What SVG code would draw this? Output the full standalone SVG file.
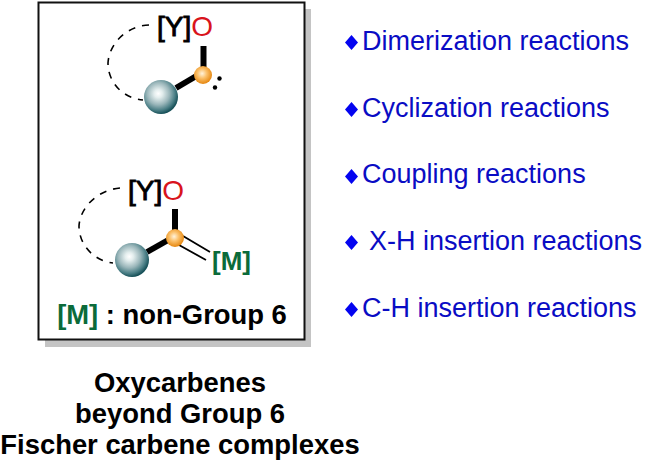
<svg xmlns="http://www.w3.org/2000/svg" width="645" height="462" viewBox="0 0 645 462">
<style>
text{font-family:"Liberation Sans",Arial,sans-serif}
.a{font-size:28px;fill:#000;stroke:#000;stroke-width:.9px}
.o{fill:#d9141c;stroke:none}
.m{font-size:26px;font-weight:bold;fill:#0b6b3a}
.b{font-size:27.400px;font-weight:bold;fill:#000;text-anchor:middle}
.r{font-size:27px;fill:#0a0cc4}
.d{fill:#0404f0}
.dash{fill:none;stroke:#000;stroke-width:1.600;stroke-dasharray:7 7}
.bond{stroke:#000;stroke-width:6;fill:none}
.thin{stroke:#000;stroke-width:1.800;fill:none}
</style>
<defs>
<radialGradient id="gs" cx=".42" cy=".4" r=".6"><stop offset="0" stop-color="#ffffff"/><stop offset=".2" stop-color="#e4eeee"/><stop offset=".55" stop-color="#9ab6ba"/><stop offset=".82" stop-color="#4b7f86"/><stop offset="1" stop-color="#175058"/></radialGradient>
<radialGradient id="go" cx=".45" cy=".42" r=".58"><stop offset="0" stop-color="#fff3dc"/><stop offset=".45" stop-color="#fbc06a"/><stop offset="1" stop-color="#e5860e"/></radialGradient>
</defs>
<g id="frame">
<rect x="45" y="9" width="266" height="338" fill="#c4c4c4"/>
<rect x="38.500" y="2.500" width="266" height="337" fill="#fff" stroke="#111" stroke-width="2"/>
</g>
<g id="connectors">
<path class="dash" d="M149 25C125 26 109 45 108 63C108 82 122 98 143 100"/>
<path class="bond" d="M203.500 46V72"/>
<path class="bond" d="M176 88L198 75"/>
<path class="dash" d="M120 188C97 190 80 208 79 226C79 245 94 261 113 263"/>
<path class="bond" d="M175 209V235"/>
<path class="bond" d="M147 252L170 239"/>
<path class="thin" d="M183 236L210 252M179 245L206 260"/>
</g>
<g id="node-carbene">
<text class="a" x="157" y="36">[Y]<tspan class="o">O</tspan></text>
<circle cx="161" cy="97" r="17" fill="url(#gs)"/>
<circle cx="203" cy="75" r="9" fill="url(#go)"/>
<circle cx="219.500" cy="78.500" r="2.200"/>
<circle cx="215" cy="87.500" r="2.200"/>
</g>
<g id="node-complex">
<text class="a" x="128" y="200">[Y]<tspan class="o">O</tspan></text>
<circle cx="132" cy="260" r="17" fill="url(#gs)"/>
<circle cx="175" cy="238" r="9" fill="url(#go)"/>
<text class="m" x="212" y="270">[M]</text>
</g>
<g id="legend">
<text class="b" x="172" y="324"><tspan fill="#0b6b3a">[M]</tspan> : non-Group 6</text>
</g>
<g id="caption">
<text class="b" x="180" y="391.500">Oxycarbenes</text>
<text class="b" x="180" y="422.500">beyond Group 6</text>
<text class="b" x="180" y="454">Fischer carbene complexes</text>
</g>
<g id="list">
<path class="d" d="M351.500 35l6.500 7.500-6.500 7.500-6.500-7.500z"/><text class="r" x="362" y="50">Dimerization reactions</text>
<path class="d" d="M351.500 102l6.500 7.500-6.500 7.500-6.500-7.500z"/><text class="r" x="362" y="117">Cyclization reactions</text>
<path class="d" d="M351.500 169l6.500 7.500-6.500 7.500-6.500-7.500z"/><text class="r" x="362" y="183">Coupling reactions</text>
<path class="d" d="M351.500 235l6.500 7.500-6.500 7.500-6.500-7.500z"/><text class="r" x="369" y="250">X-H insertion reactions</text>
<path class="d" d="M351.500 302l6.500 7.500-6.500 7.500-6.500-7.500z"/><text class="r" x="362" y="317">C-H insertion reactions</text>
</g>
</svg>
